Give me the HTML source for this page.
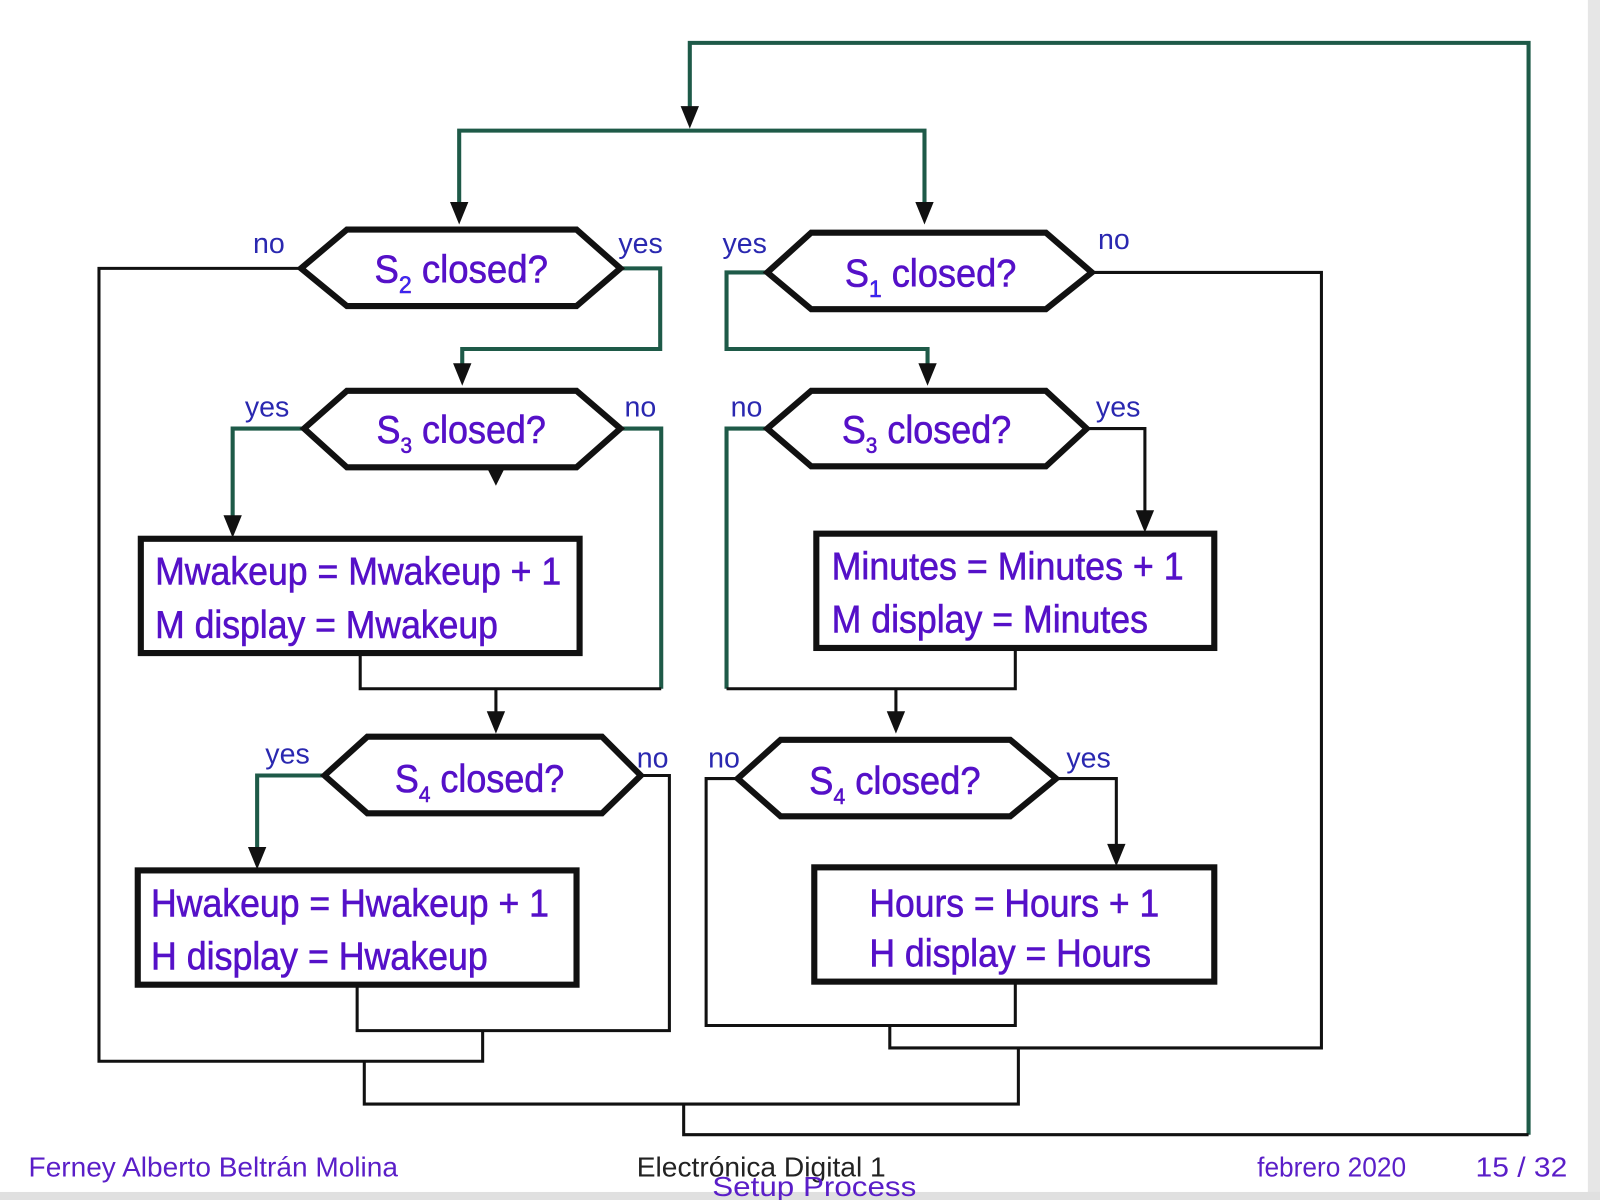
<!DOCTYPE html>
<html><head><meta charset="utf-8"><style>
html,body{margin:0;padding:0;background:#fff;width:1600px;height:1200px;overflow:hidden}
svg{display:block}
.t{font-family:"Liberation Sans",sans-serif;fill:#5510c8}
</style></head><body>
<svg width="1600" height="1200" viewBox="0 0 1568 1176" preserveAspectRatio="none" xmlns="http://www.w3.org/2000/svg">
<rect x="1556" y="0" width="60" height="1200" fill="#e6e6e6"/>
<rect x="0" y="1168" width="1600" height="40" fill="#e0e0e0"/>
<rect x="0" y="0" width="1556" height="1168" fill="#fff"/>
<g fill="none" stroke="#1e5a48" stroke-width="4">
<polyline points="1498,1112 1498,42 676,42 676,110"/>
<polyline points="450,205 450,128 906,128 906,205"/>
<polyline points="608,263 647,263 647,342 453,342 453,365"/>
<polyline points="752,267 712,267 712,342 909,342 909,365"/>
<polyline points="298,420 228,420 228,510"/>
<polyline points="608,420 648,420 648,675"/>
<polyline points="752,420 712,420 712,675"/>
<polyline points="318,760 252,760 252,836"/>
</g>
<g fill="none" stroke="#111" stroke-width="3">
<polyline points="295,263 97,263 97,1040 473,1040 473,1010"/>
<polyline points="648,675 353,675 353,640"/>
<polyline points="486,675 486,705"/>
<polyline points="712,675 995,675 995,635"/>
<polyline points="878,675 878,705"/>
<polyline points="1065,420 1122,420 1122,507"/>
<polyline points="628,760 656,760 656,1010 350,1010 350,965"/>
<polyline points="723,763 692,763 692,1005 995,1005 995,962"/>
<polyline points="1035,763 1094,763 1094,835"/>
<polyline points="1070,267 1295,267 1295,1027 872,1027 872,1005"/>
<polyline points="357,1040 357,1082 998,1082 998,1027"/>
<polyline points="670,1082 670,1112 1498,1112"/>
</g>
<g fill="#111">
<polygon points="667,104 685,104 676,126"/>
<polygon points="441,198 459,198 450,220"/>
<polygon points="897,198 915,198 906,220"/>
<polygon points="444,356 462,356 453,378"/>
<polygon points="900,356 918,356 909,378"/>
<polygon points="478,460 494,460 486,476"/>
<polygon points="219,505 237,505 228,527"/>
<polygon points="1113,500 1131,500 1122,522"/>
<polygon points="477,697 495,697 486,719"/>
<polygon points="869,697 887,697 878,719"/>
<polygon points="243,830 261,830 252,852"/>
<polygon points="1085,827 1103,827 1094,849"/>
</g>
<g fill="#fff" stroke="#111" stroke-width="6" stroke-linejoin="miter">
<polygon points="295,263 340,225 565,225 608,263 565,300 340,300"/>
<polygon points="752,267 795,228 1025,228 1070,267 1025,303 795,303"/>
<polygon points="298,420 340,383 565,383 608,420 565,458 340,458"/>
<polygon points="752,420 795,383 1025,383 1065,420 1025,457 795,457"/>
<polygon points="318,760 360,722 590,722 628,760 590,797 360,797"/>
<polygon points="723,763 765,725 990,725 1035,763 990,800 765,800"/>
<rect x="138" y="528" width="430" height="112"/>
<rect x="800" y="523" width="390" height="112"/>
<rect x="135" y="853" width="430" height="112"/>
<rect x="798" y="850" width="392" height="112"/>
</g>
<g class="t" font-size="38" text-anchor="middle" stroke="#5510c8" stroke-width="0.6">
<text x="452" y="277" textLength="170" lengthAdjust="spacingAndGlyphs">S<tspan font-size="24" dy="10" fill="#3030ff">2</tspan><tspan dy="-10"> closed?</tspan></text>
<text x="912" y="281" textLength="168" lengthAdjust="spacingAndGlyphs">S<tspan font-size="24" dy="10" fill="#3030ff">1</tspan><tspan dy="-10"> closed?</tspan></text>
<text x="452" y="434" textLength="166" lengthAdjust="spacingAndGlyphs">S<tspan font-size="22" dy="10">3</tspan><tspan dy="-10"> closed?</tspan></text>
<text x="908" y="434" textLength="166" lengthAdjust="spacingAndGlyphs">S<tspan font-size="22" dy="10">3</tspan><tspan dy="-10"> closed?</tspan></text>
<text x="470" y="776" textLength="166" lengthAdjust="spacingAndGlyphs">S<tspan font-size="22" dy="10">4</tspan><tspan dy="-10"> closed?</tspan></text>
<text x="877" y="778" textLength="168" lengthAdjust="spacingAndGlyphs">S<tspan font-size="22" dy="10">4</tspan><tspan dy="-10"> closed?</tspan></text>
</g>
<g class="t" font-size="38" stroke="#5510c8" stroke-width="0.6">
<text x="152" y="573" textLength="398" lengthAdjust="spacingAndGlyphs">Mwakeup = Mwakeup + 1</text>
<text x="152" y="625" textLength="336" lengthAdjust="spacingAndGlyphs">M display = Mwakeup</text>
<text x="815" y="568" textLength="345" lengthAdjust="spacingAndGlyphs">Minutes = Minutes + 1</text>
<text x="815" y="620" textLength="310" lengthAdjust="spacingAndGlyphs">M display = Minutes</text>
<text x="148" y="898" textLength="390" lengthAdjust="spacingAndGlyphs">Hwakeup = Hwakeup + 1</text>
<text x="148" y="950" textLength="330" lengthAdjust="spacingAndGlyphs">H display = Hwakeup</text>
<text x="852" y="898" textLength="284" lengthAdjust="spacingAndGlyphs">Hours = Hours + 1</text>
<text x="852" y="947" textLength="276" lengthAdjust="spacingAndGlyphs">H display = Hours</text>
</g>
<g class="t" font-size="28" style="fill:#2a28b0">
<text x="248" y="248">no</text>
<text x="606" y="248">yes</text>
<text x="708" y="248">yes</text>
<text x="1076" y="244">no</text>
<text x="240" y="408">yes</text>
<text x="612" y="408">no</text>
<text x="716" y="408">no</text>
<text x="1074" y="408">yes</text>
<text x="260" y="748">yes</text>
<text x="624" y="752">no</text>
<text x="694" y="752">no</text>
<text x="1045" y="752">yes</text>
</g>
<g font-family="Liberation Sans, sans-serif" font-size="27">
<text x="28" y="1153" fill="#5a1ec8" textLength="362" lengthAdjust="spacingAndGlyphs">Ferney Alberto Beltrán Molina</text>
<text x="624" y="1153" fill="#222" textLength="244" lengthAdjust="spacingAndGlyphs">Electrónica Digital 1</text>
<text x="698" y="1172" fill="#5a1ec8" textLength="200" lengthAdjust="spacingAndGlyphs">Setup Process</text>
<text x="1232" y="1153" fill="#5a1ec8" textLength="146" lengthAdjust="spacingAndGlyphs">febrero 2020</text>
<text x="1446" y="1153" fill="#5a1ec8" textLength="90" lengthAdjust="spacingAndGlyphs">15 / 32</text>
</g>
</svg>
</body></html>
